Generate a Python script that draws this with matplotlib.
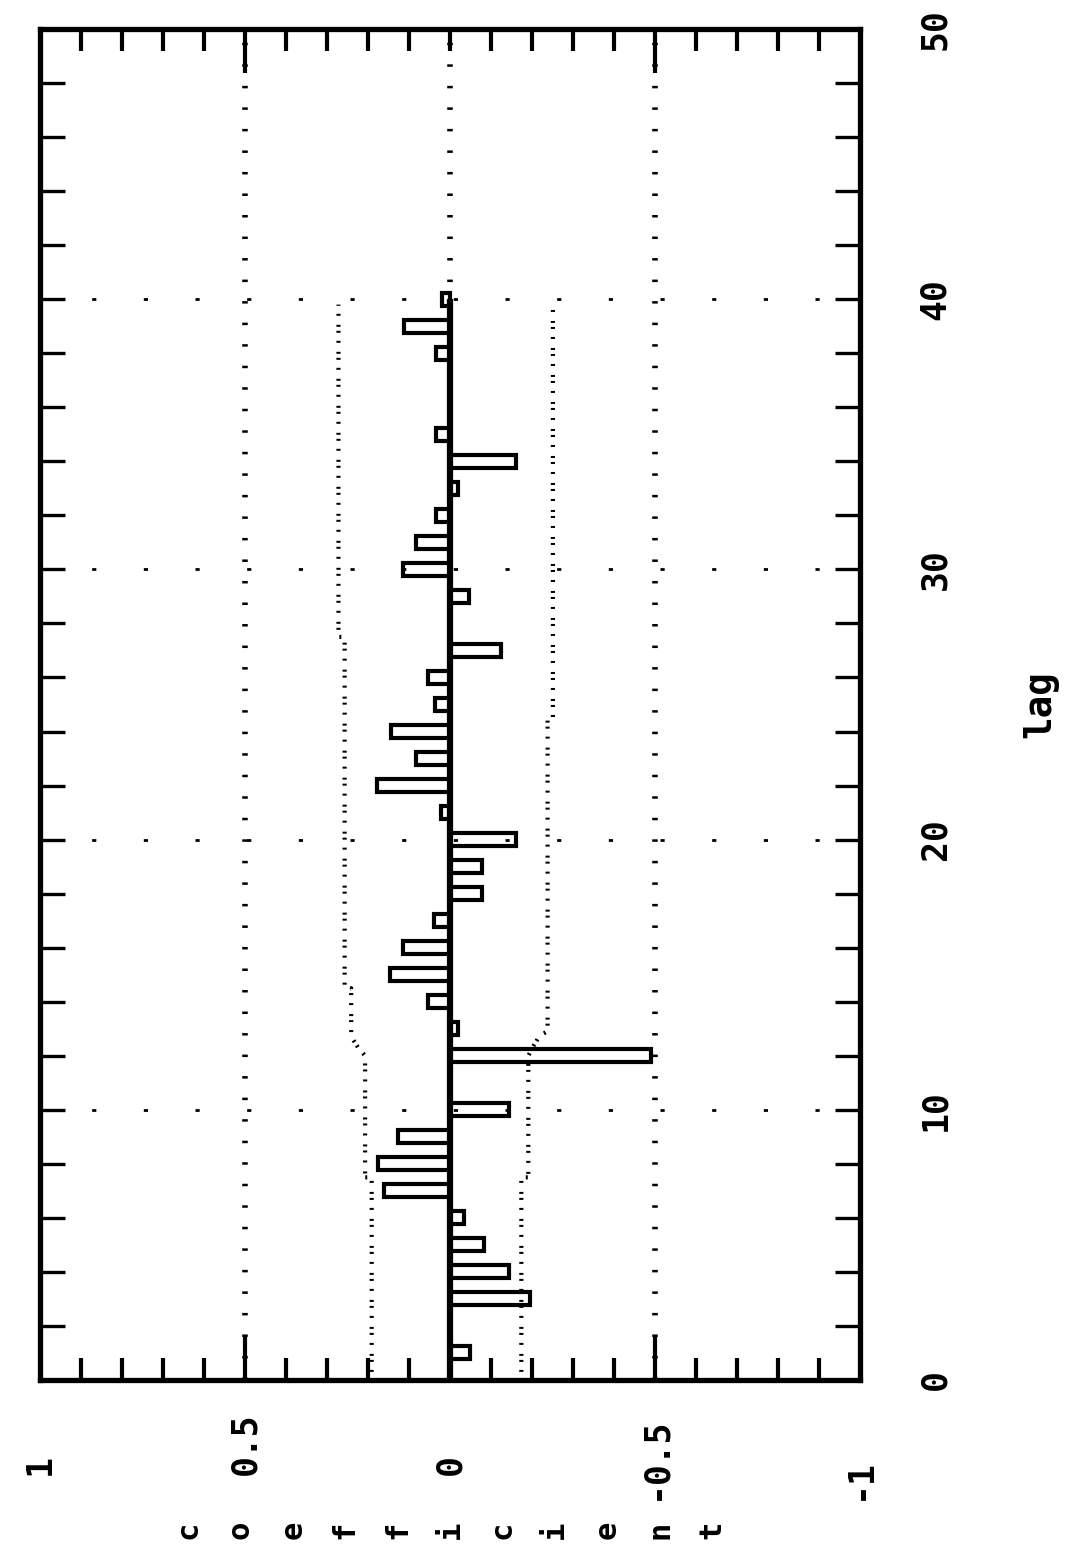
import matplotlib
matplotlib.use("Agg")
import matplotlib.pyplot as plt
import numpy as np

plt.rcParams["lines.scale_dashes"] = False
plt.rcParams["font.family"] = ["DejaVu Sans Mono", "DejaVu Sans"]
plt.rcParams["font.weight"] = "bold"

# autocorrelation coefficients, lags 1..40
lags = list(range(1, 41))
acf = [-0.05, 0.0, -0.195, -0.145, -0.082, -0.034, 0.162, 0.175, 0.128, -0.145,
       0.0, -0.49, -0.02, 0.053, 0.147, 0.115, 0.038, -0.077, -0.077, -0.16,
       0.022, 0.177, 0.082, 0.145, 0.036, 0.053, -0.125, 0.0, -0.047, 0.115,
       0.082, 0.034, -0.02, -0.16, 0.034, 0.0, 0.0, 0.034, 0.113, 0.02]

# confidence band (dotted)
band_up_lag = [0.3, 7.5, 7.5, 12.0, 12.3, 12.7, 14.5, 14.5, 27.5, 27.5, 39.8]
band_up = [0.191, 0.191, 0.207, 0.207, 0.224, 0.241, 0.241, 0.257, 0.257, 0.272, 0.272]
band_lo_lag = [0.3, 7.5, 7.5, 12.0, 12.4, 12.75, 12.9, 24.5, 24.5, 39.8]
band_lo = [-0.174, -0.174, -0.191, -0.191, -0.205, -0.219, -0.238, -0.238, -0.251, -0.251]

coef_ticks = [1, 0.5, 0, -0.5, -1]
coef_labels = ["1", "0.5", "0", "-0.5", "-1"]
lag_ticks = [0, 10, 20, 30, 40, 50]

W, H = 1074, 1568
fig = plt.figure(figsize=(W / 100, H / 100), dpi=100)
ax = fig.add_axes([40 / W, 188 / H, 820 / W, 1351 / H])
ax.set_xlim(1, -1)
ax.set_ylim(0, 50)

# dotted grid
for c in [0.5, -0.5, 0]:
    ax.axvline(c, color="k", lw=4.0, linestyle=(0, (1.8, 13.7)), zorder=1)
for L in lag_ticks[1:-1]:
    ax.axhline(L, color="k", lw=2.0, linestyle=(0, (3.0, 34.2)), zorder=1)

# confidence limits
dots = (0, (1.44, 5.76, 1.44, 2.88, 1.44, 6.48))
ax.plot(band_up, band_up_lag, color="k", lw=3.0, linestyle=dots, zorder=2)
ax.plot(band_lo, band_lo_lag, color="k", lw=3.0, linestyle=dots, zorder=2)

# bars
ax.barh(lags, acf, height=0.48, left=0, fill=False, edgecolor="k", linewidth=3.0, zorder=3)
ax.vlines(0, 0, max(lags), color="k", lw=4.5, zorder=4)

# ticks
ax.set_xticks([0.5, -0.5])
ax.set_xticks([c / 10 for c in range(-9, 10) if abs(c) != 5], minor=True)
ax.tick_params(axis="x", which="major", direction="in", length=32, width=3.0,
               top=True, bottom=True, labelbottom=False)
ax.tick_params(axis="x", which="minor", direction="in", length=16, width=3.0,
               top=True, bottom=True)
ax.set_yticks(np.arange(2, 50, 2))
ax.tick_params(axis="y", direction="in", length=18, width=2.4,
               left=True, right=True, labelleft=False)
for s in ax.spines.values():
    s.set_linewidth(3.8)

# tick labels, rotated like the page
for c, lab in zip(coef_ticks, coef_labels):
    y = -0.0888 if lab.startswith("-") else -0.0703
    ax.text(c, y, lab, rotation=90, ha="center", va="bottom", fontsize=25,
            transform=ax.get_xaxis_transform())
for L in lag_ticks:
    ax.text(1.0915, L, str(L), rotation=90, ha="center", va="center", fontsize=25,
            transform=ax.get_yaxis_transform())

ax.text(1.2195, 25, "lag", rotation=90, ha="center", va="center", fontsize=27,
        transform=ax.get_yaxis_transform())

word = "coefficient"
xs = np.linspace(188, 712, len(word))
for ch, x in zip(word, xs):
    fig.text(x / W, 1 - 1530 / H, ch, rotation=90, ha="center", va="center", fontsize=22)

fig.savefig("out.png", dpi=100)
